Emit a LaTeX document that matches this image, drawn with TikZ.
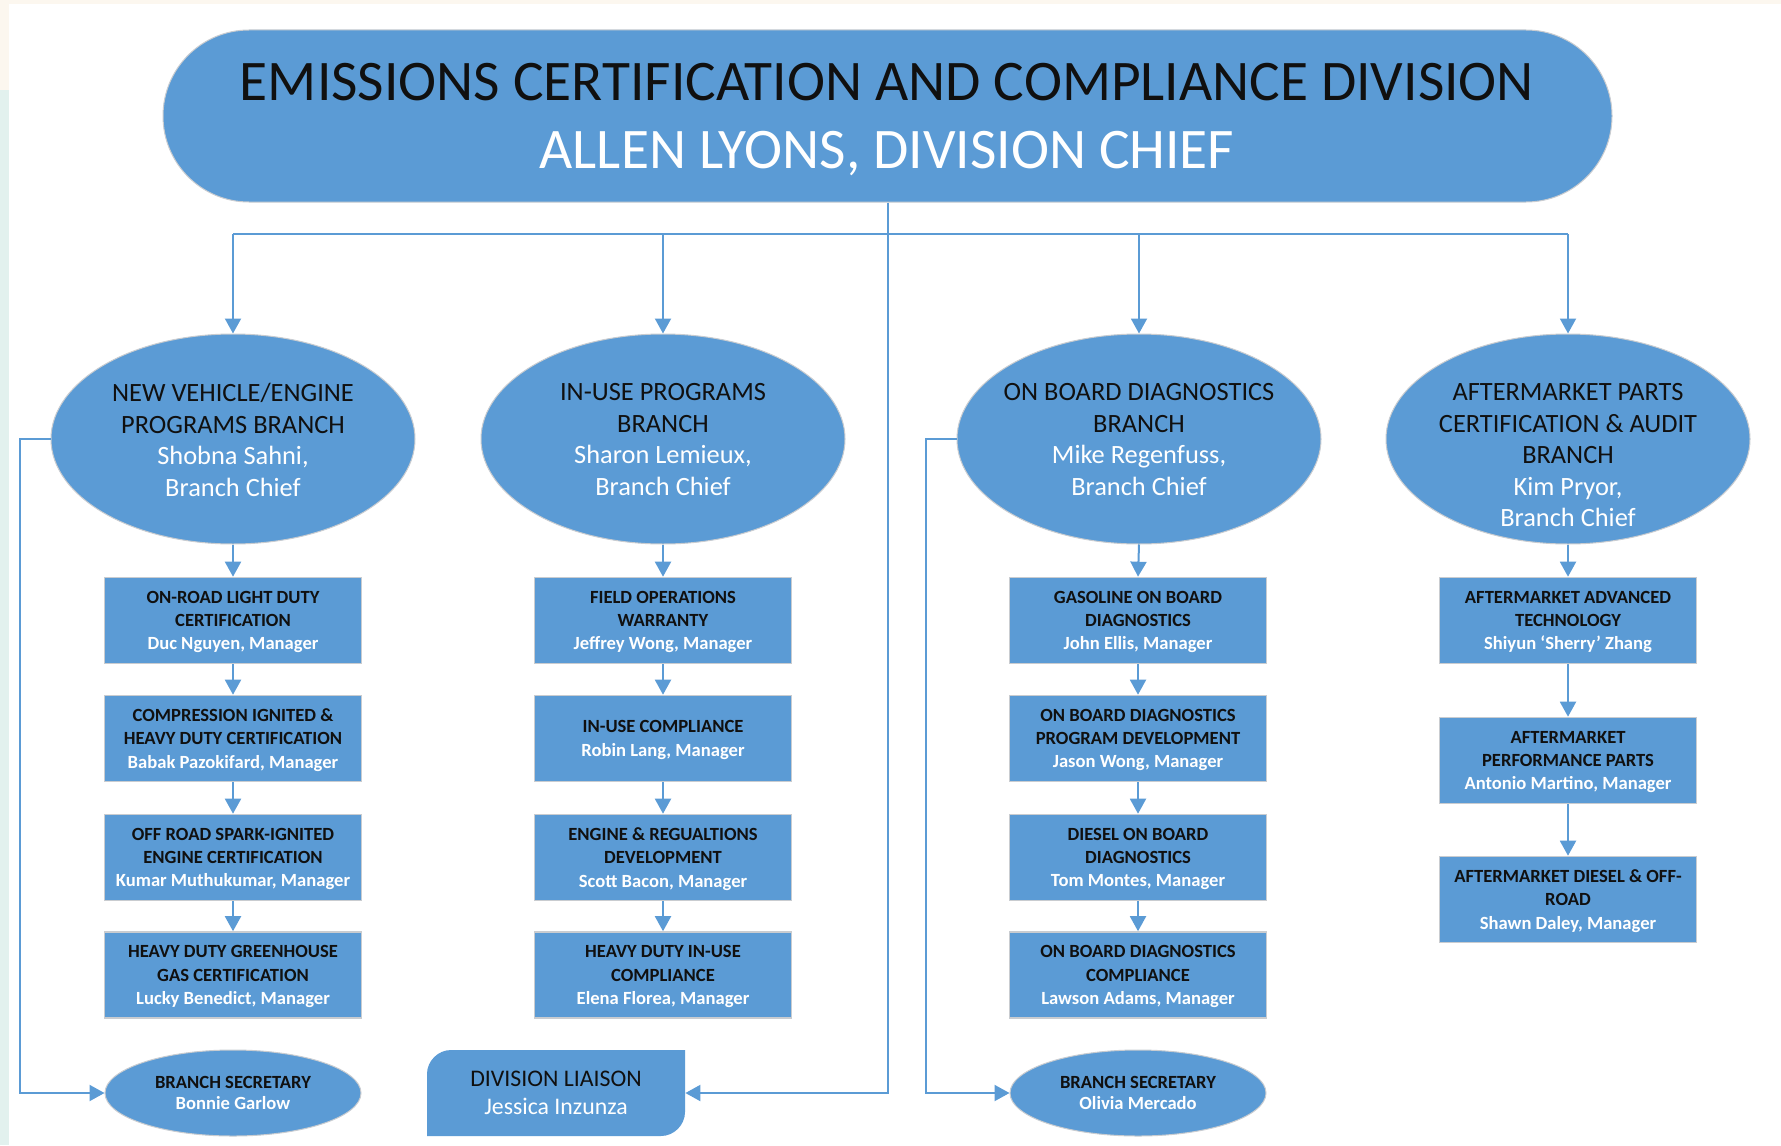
\documentclass[tikz,border=0pt]{standalone}
\usepackage{fontspec}
\setmainfont{Carlito}
\usetikzlibrary{shapes.geometric,arrows.meta}
\definecolor{obblue}{HTML}{5B9BD5}
\definecolor{edgegray}{HTML}{C9CCD0}
\definecolor{ink}{HTML}{101010}
\definecolor{paper}{HTML}{FCF7EF}
\definecolor{mint}{HTML}{E2F1EE}
\newcommand{\staffname}[1]{\textcolor{white}{#1}}
\newcommand{\wline}[1]{\textcolor{white}{#1}}
\begin{document}
\begin{tikzpicture}[x=0.5pt,y=-0.5pt,
  line/.style={draw=obblue, line width=1pt},
  conn/.style={line, -{Triangle[length=7.5pt,width=8pt]}},
  banner/.style={rectangle, fill=obblue, draw=edgegray, line width=0.5pt,
    rounded corners=43pt, minimum width=724.5pt, minimum height=86pt, inner sep=0pt},
  headtext/.style={anchor=base, inner sep=0pt, font=\fontsize{28.7}{30}\selectfont},
  branch/.style={ellipse, fill=obblue, draw=edgegray, line width=0.5pt,
    minimum width=182pt, minimum height=105pt, inner sep=0pt},
  branchtext/.style={anchor=north, align=center, inner sep=0pt, text=ink,
    font=\fontsize{13.2}{15.8}\selectfont},
  unit/.style={rectangle, fill=obblue, draw=edgegray, line width=0.8pt,
    minimum width=128.5pt, minimum height=43pt, inner sep=0pt, align=center,
    text depth=0pt, text=ink, font=\fontsize{9.3}{11.65}\selectfont\bfseries},
  secretary/.style={ellipse, fill=obblue, draw=edgegray, line width=0.5pt,
    minimum width=128pt, minimum height=43pt, inner sep=0pt, align=center,
    text=ink, font=\fontsize{9.3}{10.8}\selectfont\bfseries},
  liaisonbox/.style={rectangle, minimum width=129pt, minimum height=43pt,
    inner sep=0pt, align=center, text=ink, font=\fontsize{11.9}{13.8}\selectfont}
]
\useasboundingbox (0,0) rectangle (1781,1145);
\fill[white] (0,0) rectangle (1781,1145);
% pale page edge
\fill[paper] (0,0) rectangle (1781,4);
\fill[mint] (0,0) rectangle (9,1145);
\fill[paper] (0,0) rectangle (9,90);

% division header
\node[banner] (banner) at (887.5,116) {};
\node[headtext, text=ink] (head1) at (887,101) {EMISSIONS CERTIFICATION AND COMPLIANCE DIVISION};
\node[headtext, text=white] (head2) at (887,168) {ALLEN LYONS, DIVISION CHIEF};

% branches
\node[branch] (b1) at (233,439) {};
\node[branch] (b2) at (663,439) {};
\node[branch] (b3) at (1139,439) {};
\node[branch] (b4) at (1568,439) {};
\node[branchtext] (b1t) at (233,383) {NEW VEHICLE/ENGINE\\PROGRAMS BRANCH\\\wline{Shobna Sahni,}\\\wline{Branch Chief}};
\node[branchtext] (b2t) at (663,383) {IN-USE PROGRAMS\\BRANCH\\\wline{Sharon Lemieux,}\\\wline{Branch Chief}};
\node[branchtext] (b3t) at (1139,383) {ON BOARD DIAGNOSTICS\\BRANCH\\\wline{Mike Regenfuss,}\\\wline{Branch Chief}};
\node[branchtext] (b4t) at (1568,383) {AFTERMARKET PARTS\\CERTIFICATION \& AUDIT\\BRANCH\\\wline{Kim Pryor,}\\\wline{Branch Chief}};

% sections
\node[unit] (u11) at (233,620.5) {ON-ROAD LIGHT DUTY\\CERTIFICATION\\\staffname{Duc Nguyen, Manager}};
\node[unit] (u12) at (233,738.5) {COMPRESSION IGNITED \&\\HEAVY DUTY CERTIFICATION\\\staffname{Babak Pazokifard, Manager}};
\node[unit] (u13) at (233,857.5) {OFF ROAD SPARK-IGNITED\\ENGINE CERTIFICATION\\\staffname{Kumar Muthukumar, Manager}};
\node[unit] (u14) at (233,975) {HEAVY DUTY GREENHOUSE\\GAS CERTIFICATION\\\staffname{Lucky Benedict, Manager}};

\node[unit] (u21) at (663,620.5) {FIELD OPERATIONS\\WARRANTY\\\staffname{Jeffrey Wong, Manager}};
\node[unit] (u22) at (663,738.5) {IN-USE COMPLIANCE\\\staffname{Robin Lang, Manager}};
\node[unit] (u23) at (663,857.5) {ENGINE \& REGUALTIONS\\DEVELOPMENT\\\staffname{Scott Bacon, Manager}};
\node[unit] (u24) at (663,975) {HEAVY DUTY IN-USE\\COMPLIANCE\\\staffname{Elena Florea, Manager}};

\node[unit] (u31) at (1138,620.5) {GASOLINE ON BOARD\\DIAGNOSTICS\\\staffname{John Ellis, Manager}};
\node[unit] (u32) at (1138,738.5) {ON BOARD DIAGNOSTICS\\PROGRAM DEVELOPMENT\\\staffname{Jason Wong, Manager}};
\node[unit] (u33) at (1138,857.5) {DIESEL ON BOARD\\DIAGNOSTICS\\\staffname{Tom Montes, Manager}};
\node[unit] (u34) at (1138,975) {ON BOARD DIAGNOSTICS\\COMPLIANCE\\\staffname{Lawson Adams, Manager}};

\node[unit] (u41) at (1568,620.5) {AFTERMARKET ADVANCED\\TECHNOLOGY\\\staffname{Shiyun ‘Sherry’ Zhang}};
\node[unit] (u42) at (1568,760.5) {AFTERMARKET\\PERFORMANCE PARTS\\\staffname{Antonio Martino, Manager}};
\node[unit] (u43) at (1568,899.5) {AFTERMARKET DIESEL \& OFF-\\ROAD\\\staffname{Shawn Daley, Manager}};

% support staff
\node[secretary] (s1) at (233,1093) {BRANCH SECRETARY\\\staffname{Bonnie Garlow}};
\node[secretary] (s3) at (1138,1093) {BRANCH SECRETARY\\\staffname{Olivia Mercado}};
% liaison card: rounded top-left and bottom-right corners
\fill[obblue] (427,1136) -- (427,1074) .. controls (427,1061) and (438,1050) .. (451,1050)
  -- (685,1050) -- (685,1112) .. controls (685,1125) and (674,1136) .. (661,1136) -- cycle;
\node[liaisonbox] (liaison) at (556,1093) {DIVISION LIAISON\\\wline{Jessica Inzunza}};

% connectors
\coordinate (busL) at (233,234);
\coordinate (busR) at (1568,234);
\coordinate (loop1) at (20,439);
\coordinate (loop3) at (926,439);
\draw[line] (busL) -- (busR);
\draw[conn] (banner.south) |- (liaison.east);
\foreach \b in {b1,b2,b3,b4}
  \draw[conn] (\b.north |- busL) -- (\b.north);
\foreach \b/\c in {b1/1,b2/2,b3/3,b4/4}
  \draw[conn] (\b.south) -- (u\c1.north);
\foreach \c in {1,2,3}{
  \draw[conn] (u\c1.south) -- (u\c2.north);
  \draw[conn] (u\c2.south) -- (u\c3.north);
  \draw[conn] (u\c3.south) -- (u\c4.north);
}
\draw[conn] (u41.south) -- (u42.north);
\draw[conn] (u42.south) -- (u43.north);
\draw[conn] (b1.west) -- (loop1) |- (s1.west);
\draw[conn] (b3.west) -- (loop3) |- (s3.west);
\end{tikzpicture}
\end{document}
